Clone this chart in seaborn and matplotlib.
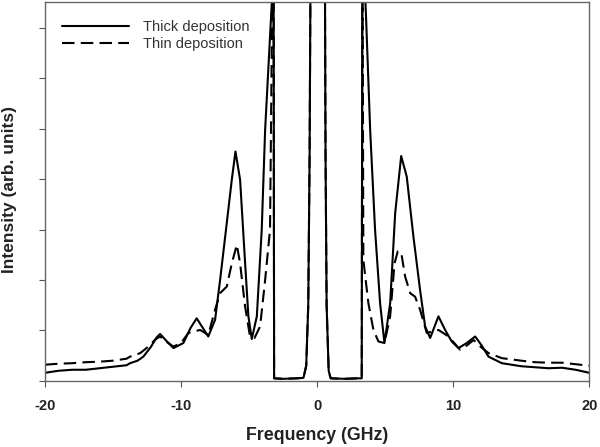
import pandas as pd
import matplotlib
matplotlib.use('Agg')
import matplotlib.pyplot as plt
import seaborn as sns

# Spectrum traces (frequency in GHz, intensity in arb. units)
thick_x = [-20, -19, -18, -17, -16, -15, -14, -13.75, -13.2, -12.77, -12.2, -11.8, -11.54,
           -11.1, -10.56, -9.83, -9.3, -8.85, -8.4, -8.0, -7.5, -7.13, -6.64, -6.27,
           -6.0, -5.66, -5.29, -5.05, -4.8, -4.43, -4.07, -3.82, -3.33, -3.24, -3.2,
           -3.16, -2.5, -1.5, -1.0, -0.8, -0.65, -0.55, -0.45, 0.0, 0.55, 0.62, 0.7,
           0.85, 1.0, 2.0, 3.0, 3.28, 3.33, 3.6, 3.9, 4.26, 4.63, 4.95, 5.37, 5.74,
           6.18, 6.59, 7.08, 7.57, 7.94, 8.31, 8.92, 9.41, 9.9, 10.39, 11.0, 11.62,
           12.1, 12.6, 13.58, 15, 16, 17, 18, 19, 20]
thick_y = [0.16, 0.20, 0.22, 0.22, 0.25, 0.28, 0.31, 0.35, 0.40, 0.48, 0.68, 0.86, 0.93,
           0.80, 0.65, 0.75, 1.05, 1.24, 1.05, 0.88, 1.21, 2.00, 3.13, 3.99,
           4.55, 3.99, 2.33, 1.28, 0.83, 1.28, 3.00, 4.98, 7.50, 9.0, 9.0,
           0.05, 0.04, 0.05, 0.06, 0.30, 1.50, 4.50, 10.0, 40.0, 10.0, 4.50, 1.50,
           0.20, 0.05, 0.04, 0.05, 0.05, 9.0, 7.20, 4.98, 3.00, 1.54, 0.75, 1.54, 3.33,
           4.46, 4.05, 2.86, 1.80, 1.08, 0.85, 1.28, 1.01, 0.78, 0.65, 0.75, 0.88,
           0.70, 0.48, 0.35, 0.29, 0.27, 0.25, 0.26, 0.22, 0.16]

thin_x = [-20, -19, -18, -17, -16, -15, -14, -13.75, -13.0, -12.4, -11.9, -11.54, -11.1,
          -10.56, -10.0, -9.46, -8.6, -8.0, -7.5, -7.13, -6.64, -6.27, -5.9, -5.66,
          -5.29, -4.93, -4.6, -4.19, -3.82, -3.46, -3.3, -3.24, -3.2, -3.16, -2.5,
          -1.5, -1.0, -0.8, -0.65, -0.55, -0.45, 0.0, 0.55, 0.62, 0.7, 0.85, 1.0,
          2.0, 3.0, 3.28, 3.33, 3.4, 3.77, 4.14, 4.51, 4.95, 5.37, 5.69, 5.93, 6.18,
          6.47, 6.84, 7.2, 7.57, 8.06, 8.5, 8.92, 9.66, 10.5, 11.0, 11.5, 12.0, 12.6,
          13.58, 15, 16, 17, 18, 19, 20]
thin_y = [0.32, 0.34, 0.35, 0.37, 0.38, 0.40, 0.44, 0.48, 0.55, 0.68, 0.82, 0.88, 0.78,
          0.68, 0.75, 0.95, 1.01, 0.91, 1.41, 1.74, 1.87, 2.33, 2.70, 2.33,
          1.47, 0.88, 0.85, 1.08, 2.00, 3.00, 7.50, 9.0, 9.0, 0.05, 0.04,
          0.05, 0.06, 0.30, 1.50, 4.50, 10.0, 40.0, 10.0, 4.50, 1.50, 0.20, 0.05,
          0.04, 0.05, 0.05, 9.0, 2.40, 1.54, 1.01, 0.78, 0.75, 1.28, 2.33, 2.57, 2.55,
          2.07, 1.74, 1.67, 1.41, 0.95, 0.98, 1.01, 0.88, 0.62, 0.70, 0.81, 0.68, 0.55,
          0.45, 0.40, 0.37, 0.36, 0.36, 0.33, 0.30]

x_ticks = [-20, -10, 0, 10, 20]
y_ticks = [0, 1, 2, 3, 4, 5, 6, 7]

sns.set_style('ticks')
plt.rcParams['font.family'] = ['Liberation Sans', 'DejaVu Sans']

fig = plt.figure(figsize=(6, 4.47), dpi=100)
ax = fig.add_axes([0.075, 0.148, 0.907, 0.848])

thick = pd.DataFrame({'Frequency': thick_x, 'Intensity': thick_y})
thin = pd.DataFrame({'Frequency': thin_x, 'Intensity': thin_y})

sns.lineplot(data=thick, x='Frequency', y='Intensity', ax=ax, estimator=None,
             color='black', linewidth=1.5, label='Thick deposition')
sns.lineplot(data=thin, x='Frequency', y='Intensity', ax=ax, estimator=None,
             color='black', linewidth=1.5, label='Thin deposition')
ax.lines[1].set_dashes((6, 3))

ax.set_xlim(-20, 20)
ax.set_ylim(0, 7.52)
ax.set_xticks(x_ticks)
ax.set_xticklabels([str(t) for t in x_ticks], fontsize=10.5, fontweight='bold', color='#222222')
ax.set_yticks(y_ticks)
ax.set_yticklabels([])
ax.tick_params(axis='both', direction='out', length=4, width=0.8, color='#555555')
ax.tick_params(axis='x', pad=9)

for side in ['top', 'right', 'left', 'bottom']:
    ax.spines[side].set_visible(True)
    ax.spines[side].set_color('#666666')
    ax.spines[side].set_linewidth(1.0)

ax.set_xlabel('Frequency (GHz)', fontsize=12.8, fontweight='bold', color='#222222', labelpad=10)
ax.set_ylabel('Intensity (arb. units)', fontsize=12.5, fontweight='bold', color='#222222')
ax.yaxis.set_label_coords(-0.052, 0.505)

leg = ax.legend(loc='upper left', frameon=False, fontsize=10.5, handlelength=4.6,
                bbox_to_anchor=(0.005, 0.99), borderaxespad=0.6, labelspacing=0.2,
                handletextpad=0.9)
for txt in leg.get_texts():
    txt.set_color('#333333')
leg.get_lines()[1].set_dashes((6, 3))

fig.savefig('out.png', dpi=100)
